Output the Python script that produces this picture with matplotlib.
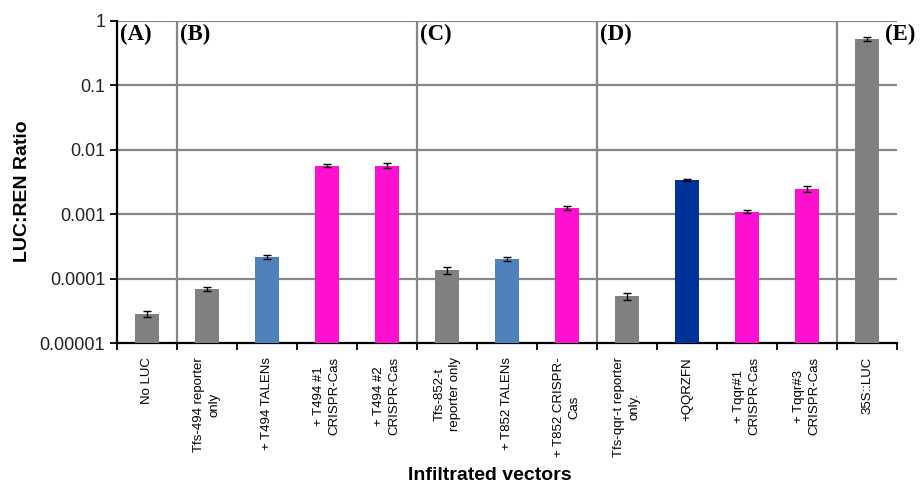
import matplotlib
matplotlib.use("Agg")
import matplotlib.pyplot as plt
import numpy as np

# ---- data ----
labels = [
    "No LUC",
    "Tfs-494 reporter\nonly",
    "+ T494 TALENs",
    "+ T494 #1\nCRISPR-Cas",
    "+ T494 #2\nCRISPR-Cas",
    "Tfs-852-t\nreporter only",
    "+ T852 TALENs",
    "+ T852 CRISPR-\nCas",
    "Tfs-qqr-t reporter\nonly.",
    "+QQRZFN",
    "+ Tqqr#1\nCRISPR-Cas",
    "+ Tqqr#3\nCRISPR-Cas",
    "35S::LUC",
]
ratio = [2.8e-5, 6.9e-5, 2.2e-4, 5.7e-3, 5.7e-3, 1.35e-4, 2.0e-4,
         1.25e-3, 5.3e-5, 3.4e-3, 1.1e-3, 2.45e-3, 0.53]
err = [0.3e-5, 0.5e-5, 0.15e-4, 0.25e-3, 0.5e-3, 0.15e-4, 0.15e-4,
       0.1e-3, 0.6e-5, 0.08e-3, 0.05e-3, 0.25e-3, 0.04]
kind = ["ctrl", "ctrl", "talen", "crispr", "crispr", "ctrl", "talen",
        "crispr", "ctrl", "zfn", "crispr", "crispr", "ctrl"]
group_names = ["(A)", "(B)", "(C)", "(D)", "(E)"]
group_breaks = [1, 5, 8, 12]      # separator after these many bars

COLORS = {"ctrl": "#808080", "talen": "#4f81bd", "crispr": "#ff10d0",
          "zfn": "#003399"}
GRID = "#868686"
SANS = "Liberation Sans"

fig = plt.figure(figsize=(9.21, 4.86), dpi=100)
ax = fig.add_axes([0.127, 0.294, 0.847, 0.663])

x = np.arange(len(ratio))
ax.bar(x, ratio, width=0.4, color=[COLORS[k] for k in kind], zorder=3)
ax.errorbar(x, ratio, yerr=err, fmt="none", ecolor="black", elinewidth=1,
            capsize=3, capthick=1, zorder=4)

ax.set_yscale("log")
ax.set_ylim(1e-5, 1)
ax.set_xlim(-0.5, len(ratio) - 0.5)

yt = [1e-5, 1e-4, 1e-3, 1e-2, 1e-1, 1]
ax.set_yticks(yt)
ax.set_yticklabels(["0.00001", "0.0001", "0.001", "0.01", "0.1", "1"],
                   fontsize=13, family=SANS, color="#222222")
ax.yaxis.set_minor_locator(matplotlib.ticker.NullLocator())
for v in yt[1:]:
    ax.axhline(v, color=GRID, lw=1.6, zorder=1)
for b in group_breaks:
    ax.axvline(b - 0.5, color=GRID, lw=1.6, zorder=1)

# labels centred on bars, tick marks on category boundaries
ax.set_xticks(x)
ax.set_xticklabels(labels, rotation=90, fontsize=9.5, family=SANS,
                   ha="center", va="top", multialignment="center",
                   linespacing=1.35)
ax.set_xticks(np.arange(-0.5, len(ratio), 1), minor=True)
ax.tick_params(axis="x", which="major", length=0, pad=10)
ax.tick_params(axis="x", which="minor", length=5, width=1.3, direction="out")
ax.tick_params(axis="y", length=5, width=1.3, direction="out")

for s in ["top", "right"]:
    ax.spines[s].set_visible(False)
for s in ["left", "bottom"]:
    ax.spines[s].set_linewidth(1.6)
    ax.spines[s].set_color("black")

ax.set_ylabel("LUC:REN Ratio", fontsize=14, fontweight="bold", family=SANS)
ax.yaxis.set_label_coords(-0.11, 0.47)
fig.text(0.532, 0.004, "Infiltrated vectors", fontsize=14, fontweight="bold",
         family=SANS, ha="center", va="bottom")

starts = [0] + group_breaks
for i, (name, st) in enumerate(zip(group_names, starts)):
    xpos = st - 0.5 + 0.05 if i < 4 else 12.3
    ax.text(xpos, 0.99, name, transform=ax.get_xaxis_transform(),
            fontsize=16.5, fontweight="bold", family="Liberation Serif",
            ha="left", va="top", clip_on=False)

fig.savefig("out.png", dpi=100, facecolor="white")
